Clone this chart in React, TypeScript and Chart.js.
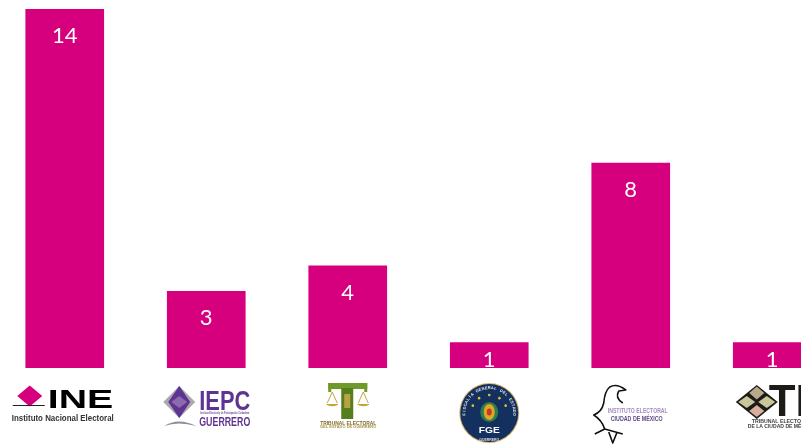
import React, { useEffect, useRef } from "react";
import { Chart, registerables } from "chart.js";

Chart.register(...registerables);

const categories = ["INE", "IEPC Guerrero", "Tribunal Electoral del Estado de Guerrero", "FGE Guerrero", "Instituto Electoral Ciudad de México", "Tribunal Electoral de la Ciudad de México"];
const values = [14, 3, 4, 1, 8, 1];
const BAR = "#D6007F";

type C = CanvasRenderingContext2D;

function stretched(ctx: C, s: string, x: number, y: number, w: number, font: string, color: string, sy = 1) {
  ctx.save();
  ctx.font = font;
  ctx.fillStyle = color;
  ctx.textAlign = "left";
  ctx.textBaseline = "alphabetic";
  const m = ctx.measureText(s).width;
  ctx.translate(x, y);
  ctx.scale(w / m, sy);
  ctx.fillText(s, 0, 0);
  ctx.restore();
}

function poly(ctx: C, pts: number[][], fill: string) {
  ctx.beginPath();
  pts.forEach((p, i) => (i ? ctx.lineTo(p[0], p[1]) : ctx.moveTo(p[0], p[1])));
  ctx.closePath();
  ctx.fillStyle = fill;
  ctx.fill();
}

function diamond(ctx: C, cx: number, cy: number, rx: number, ry: number, fill: string) {
  poly(ctx, [[cx, cy - ry], [cx + rx, cy], [cx, cy + ry], [cx - rx, cy]], fill);
}

const SANS = '"Liberation Sans"';

function logoIne(ctx: C, c: number) {
  const o = c - 65;
  diamond(ctx, 30 + o, 396, 12.5, 10.5, BAR);
  ctx.fillStyle = "#222";
  ctx.fillRect(13 + o, 405, 32, 1);
  stretched(ctx, "INE", 48 + o, 407.5, 65.5, `900 25px ${SANS}`, "#000", 1.05);
  ctx.strokeStyle = "#000";
  stretched(ctx, "Instituto Nacional Electoral", 12 + o, 421, 102, `bold 8.5px ${SANS}`, "#333");
}

function logoIepc(ctx: C, c: number) {
  const o = c - 206;
  diamond(ctx, 179 + o, 402, 16, 16, "#A9A9AD");
  diamond(ctx, 179 + o, 402, 11, 16, "#5F3391");
  diamond(ctx, 179 + o, 402, 8, 6, "#8A6BAE");
  stretched(ctx, "IEPC", 199 + o, 410, 51, `bold 24px ${SANS}`, "#5F3391", 1.15);
  stretched(ctx, "Instituto Electoral y de Participación Ciudadana", 200 + o, 414, 49, `bold 3px ${SANS}`, "#6b4a96");
  stretched(ctx, "GUERRERO", 199 + o, 426, 51, `bold 12px ${SANS}`, "#5F3391", 1.05);
  ctx.beginPath();
  ctx.moveTo(164 + o, 426);
  ctx.quadraticCurveTo(178 + o, 417, 196 + o, 426);
  ctx.quadraticCurveTo(178 + o, 421, 164 + o, 426);
  ctx.fillStyle = "#8f8f92";
  ctx.fill();
}

function logoTribunal(ctx: C, c: number) {
  const o = c - 347.5;
  ctx.fillStyle = "#6F9A2A";
  ctx.fillRect(328 + o, 383, 39, 6);
  ctx.fillRect(328 + o, 383, 3, 9);
  ctx.fillRect(364 + o, 383, 3, 9);
  ctx.fillStyle = "#557F1C";
  ctx.fillRect(341 + o, 388, 12, 31);
  ctx.fillStyle = "#B9A244";
  ctx.fillRect(344 + o, 394, 6, 14);
  ctx.strokeStyle = "#C2A63C";
  ctx.lineWidth = 1;
  [332, 363].forEach((x) => {
    ctx.beginPath();
    ctx.moveTo(x + o, 392);
    ctx.lineTo(x - 5 + o, 403);
    ctx.moveTo(x + o, 392);
    ctx.lineTo(x + 5 + o, 403);
    ctx.stroke();
    ctx.beginPath();
    ctx.ellipse(x + o, 404, 6, 2.2, 0, 0, Math.PI);
    ctx.fillStyle = "#C2A63C";
    ctx.fill();
  });
  stretched(ctx, "TRIBUNAL ELECTORAL", 320 + o, 424.5, 56, `bold 5.5px ${SANS}`, "#7a6a2a");
  stretched(ctx, "DEL ESTADO DE GUERRERO", 320 + o, 428, 56, `bold 3.5px ${SANS}`, "#a89548");
}

function logoFge(ctx: C, c: number) {
  const x = c, y = 413;
  ctx.beginPath();
  ctx.arc(x, y, 30, 0, Math.PI * 2);
  ctx.fillStyle = "#D9B36A";
  ctx.fill();
  ctx.beginPath();
  ctx.arc(x, y, 29, 0, Math.PI * 2);
  ctx.fillStyle = "#14305F";
  ctx.fill();
  ctx.save();
  ctx.font = `bold 4px ${SANS}`;
  ctx.fillStyle = "#E8E8E8";
  ctx.textAlign = "center";
  ctx.textBaseline = "middle";
  const top = "FISCALÍA GENERAL DEL ESTADO";
  top.split("").forEach((ch, i) => {
    const a = -Math.PI / 2 + (i - (top.length - 1) / 2) * 0.125;
    ctx.save();
    ctx.translate(x + Math.cos(a) * 25, y + Math.sin(a) * 25);
    ctx.rotate(a + Math.PI / 2);
    ctx.fillText(ch, 0, 0);
    ctx.restore();
  });
  ctx.restore();
  ctx.fillStyle = "#E3C22E";
  [-1.15, -0.6, 0, 0.6, 1.15].forEach((d) => {
    const a = -Math.PI / 2 + d;
    ctx.beginPath();
    ctx.arc(x + Math.cos(a) * 18, y + Math.sin(a) * 18, 1.3, 0, Math.PI * 2);
    ctx.fill();
  });
  ctx.beginPath();
  ctx.ellipse(x, y - 1, 9, 10, 0, 0, Math.PI * 2);
  ctx.fillStyle = "#2E7D4F";
  ctx.fill();
  ctx.beginPath();
  ctx.ellipse(x, y - 1, 5.5, 8, 0, 0, Math.PI * 2);
  ctx.fillStyle = "#E0A526";
  ctx.fill();
  ctx.beginPath();
  ctx.ellipse(x, y - 1, 2.5, 3.5, 0, 0, Math.PI * 2);
  ctx.fillStyle = "#C23A2A";
  ctx.fill();
  stretched(ctx, "FGE", x - 10.5, 433, 21, `bold 9.5px ${SANS}`, "#fff");
  stretched(ctx, "GUERRERO", x - 10, 441, 20, `bold 3.5px ${SANS}`, "#ddd");
}

function logoIecm(ctx: C, c: number) {
  const o = c - 630;
  ctx.strokeStyle = "#111";
  ctx.lineWidth = 1.6;
  ctx.lineJoin = "round";
  ctx.beginPath();
  ctx.moveTo(622 + o, 403);
  ctx.quadraticCurveTo(614 + o, 398, 618 + o, 391);
  ctx.lineTo(625 + o, 390);
  ctx.quadraticCurveTo(616 + o, 383, 609 + o, 387);
  ctx.quadraticCurveTo(604 + o, 391, 603 + o, 403);
  ctx.quadraticCurveTo(601 + o, 412, 593 + o, 415);
  ctx.quadraticCurveTo(601 + o, 420, 604 + o, 429);
  ctx.lineTo(594 + o, 434);
  ctx.moveTo(604 + o, 429);
  ctx.lineTo(622 + o, 434);
  ctx.moveTo(608 + o, 432);
  ctx.lineTo(612 + o, 443);
  ctx.lineTo(616 + o, 433);
  ctx.stroke();
  stretched(ctx, "INSTITUTO ELECTORAL", 607 + o, 413, 60, `bold 6px ${SANS}`, "#A58BC0", 1.25);
  stretched(ctx, "CIUDAD DE MÉXICO", 610 + o, 421, 52, `bold 6px ${SANS}`, "#5B4A86", 1.25);
}

function logoTecm(ctx: C, c: number) {
  const o = c - 771.5;
  diamond(ctx, 756 + o, 402, 21, 17, "#1d1a18");
  diamond(ctx, 756 + o, 393, 7.5, 6.5, "#B8A98A");
  diamond(ctx, 746 + o, 402, 8.5, 6, "#C9C79A");
  diamond(ctx, 766 + o, 402, 8.5, 6, "#C9C79A");
  diamond(ctx, 756 + o, 411, 7.5, 6, "#D9AFA0");
  stretched(ctx, "TE", 768 + o, 416, 56, `bold 42px ${SANS}`, "#1d1a18", 1.05);
  stretched(ctx, "TRIBUNAL ELECTORAL", 751 + o, 423, 60, `bold 5px ${SANS}`, "#444");
  stretched(ctx, "DE LA CIUDAD DE MÉXICO", 747 + o, 427.5, 66, `bold 5px ${SANS}`, "#444");
}

const logos = [logoIne, logoIepc, logoTribunal, logoFge, logoIecm, logoTecm];

const decorations = {
  id: "decorations",
  afterDatasetsDraw(chart: any) {
    const ctx: C = chart.ctx;
    const bars = chart.getDatasetMeta(0).data;
    const base = chart.scales.y.getPixelForValue(0);
    ctx.save();
    ctx.font = '22px Lato';
    ctx.fillStyle = "#fff";
    ctx.textAlign = "center";
    ctx.textBaseline = "middle";
    bars.forEach((b: any, i: number) => {
      ctx.fillText(String(values[i]), b.x, Math.min(b.y + 27, base - 8));
    });
    ctx.restore();
    ctx.save();
    ctx.filter = "blur(0.35px)";
    bars.forEach((b: any, i: number) => logos[i](ctx, b.x));
    ctx.restore();
  },
};

export default function App() {
  const ref = useRef<HTMLCanvasElement>(null);
  useEffect(() => {
    const chart = new Chart(ref.current!, {
      type: "bar",
      data: {
        labels: categories,
        datasets: [{ data: values, backgroundColor: BAR, categoryPercentage: 1, barPercentage: 0.556 }],
      },
      options: {
        responsive: false,
        animation: false,
        layout: { padding: { top: 9, bottom: 76, left: 0, right: 0 } },
        plugins: { legend: { display: false }, tooltip: { enabled: false } },
        scales: {
          x: { display: false },
          y: { display: false, min: 0, max: 14 },
        },
      },
      plugins: [decorations],
    });
    return () => chart.destroy();
  }, []);
  return (
    <div style={{ position: "fixed", left: 0, top: 0, width: 801, height: 444, overflow: "hidden", background: "#fff" }}>
      <canvas ref={ref} width={849} height={444} style={{ position: "absolute", left: -6, top: 0 }} />
    </div>
  );
}
